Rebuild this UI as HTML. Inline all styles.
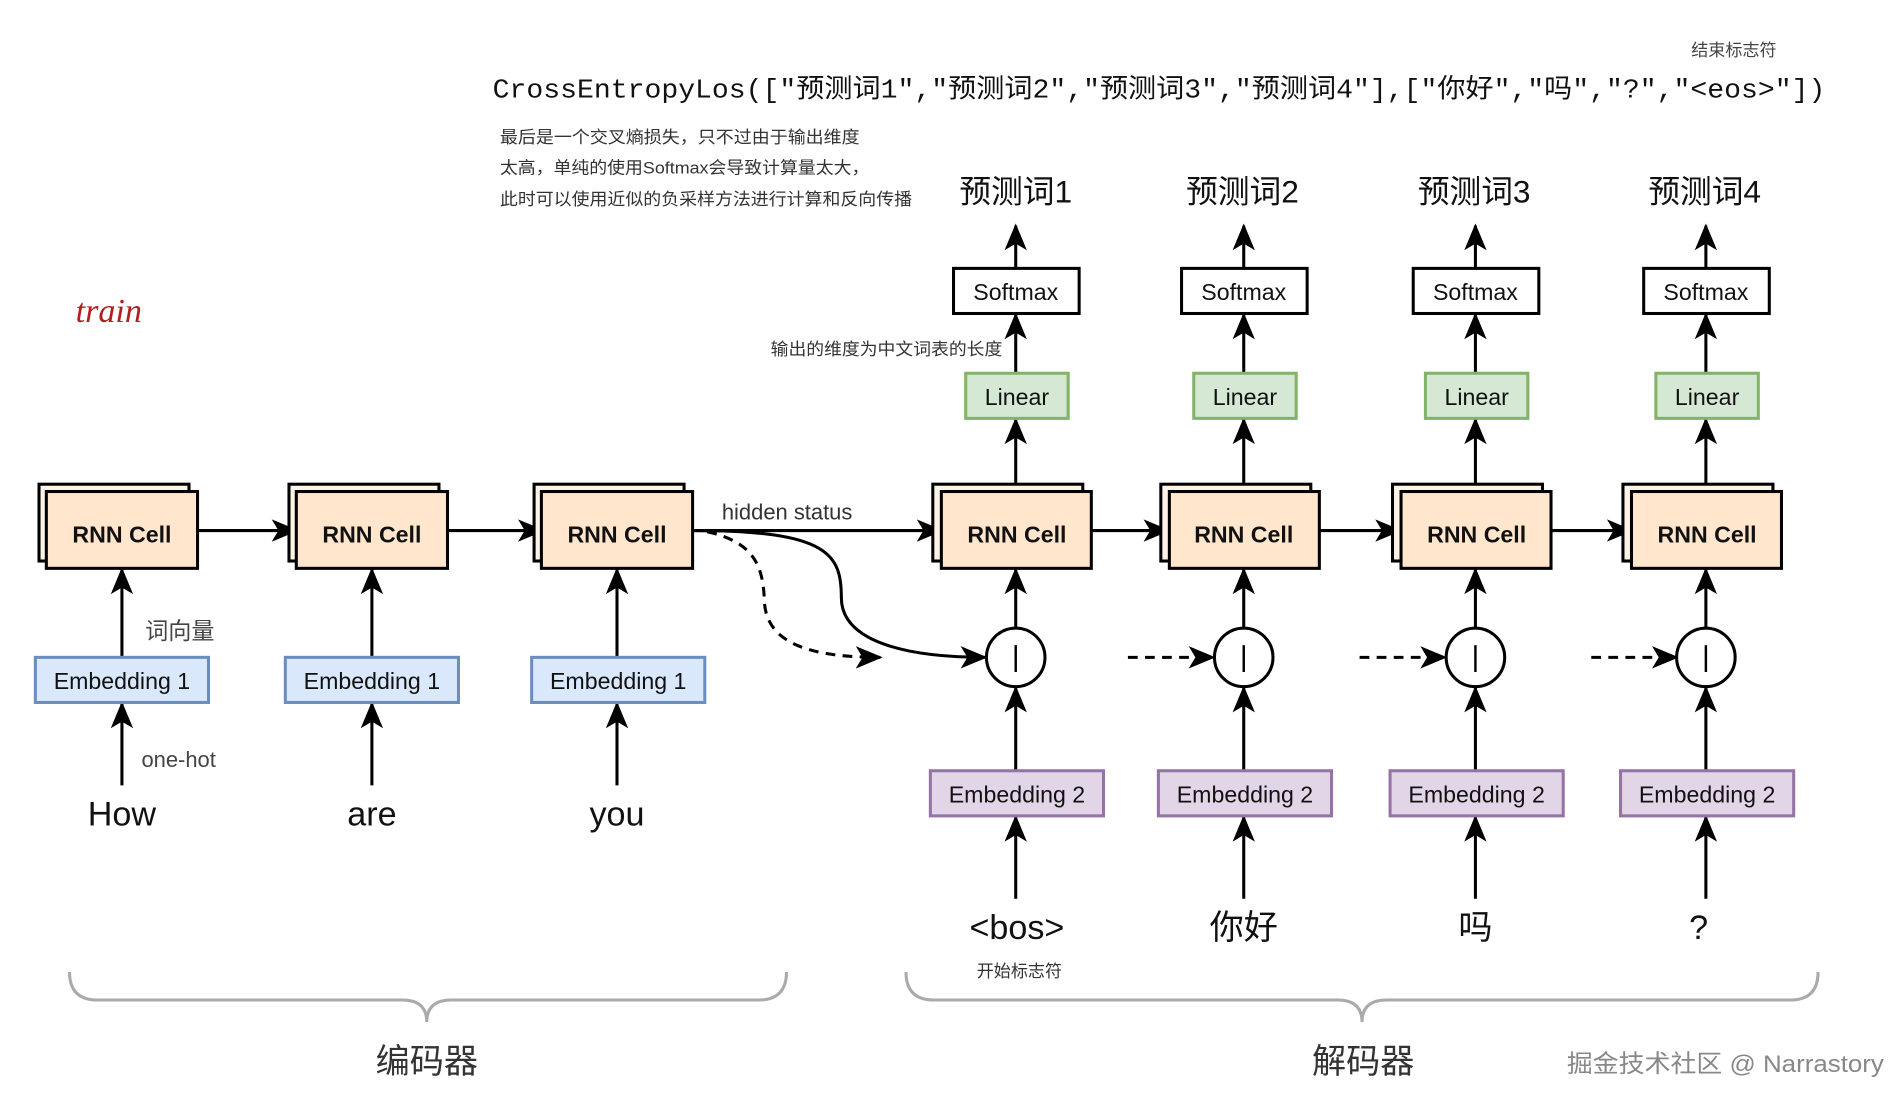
<!DOCTYPE html>
<html><head><meta charset="utf-8"><style>
html,body{margin:0;padding:0;background:#fff;}
svg{display:block;}
text{font-family:"Liberation Sans","Noto Sans CJK SC",sans-serif;}
</style></head><body>
<svg width="1890" height="1094" viewBox="0 0 1550 897" xmlns="http://www.w3.org/2000/svg">
<defs>
<marker id="b" viewBox="0 0 12 12" refX="11" refY="6" markerWidth="22" markerHeight="22" markerUnits="userSpaceOnUse" orient="auto">
<path d="M0,1 L12,6 L0,11 L3,6 Z" fill="#000"/>
</marker>
</defs>
<rect width="1550" height="897" fill="#fff"/>

<text x="1387" y="46" font-size="14" fill="#444">结束标志符</text>
<text x="404" y="80" font-size="22" style="font-family:'Liberation Mono','Noto Sans CJK SC',monospace" textLength="1093" lengthAdjust="spacingAndGlyphs" fill="#111">CrossEntropyLos(["预测词1","预测词2","预测词3","预测词4"],["你好","吗","?","&lt;eos&gt;"])</text>
<g font-size="14" fill="#333">
<text x="410" y="117" textLength="295" lengthAdjust="spacingAndGlyphs">最后是一个交叉熵损失，只不过由于输出维度</text>
<text x="410" y="142" textLength="303" lengthAdjust="spacingAndGlyphs">太高，单纯的使用Softmax会导致计算量太大，</text>
<text x="410" y="168" textLength="338" lengthAdjust="spacingAndGlyphs">此时可以使用近似的负采样方法进行计算和反向传播</text>
</g>
<text x="62" y="264" font-size="28" font-style="italic" style="font-family:'Liberation Serif',serif" fill="#b02020">train</text>
<text x="632" y="291" font-size="14" fill="#333" textLength="190" lengthAdjust="spacingAndGlyphs">输出的维度为中文词表的长度</text>

<g font-size="26" text-anchor="middle" fill="#111">
<text x="833" y="166">预测词1</text><text x="1019" y="166">预测词2</text><text x="1209" y="166">预测词3</text><text x="1398" y="166">预测词4</text>
</g>

<g stroke="#000" stroke-width="2.5" fill="none">
<line x1="833" y1="220" x2="833" y2="185" marker-end="url(#b)"/>
<line x1="1020" y1="220" x2="1020" y2="185" marker-end="url(#b)"/>
<line x1="1210" y1="220" x2="1210" y2="185" marker-end="url(#b)"/>
<line x1="1399" y1="220" x2="1399" y2="185" marker-end="url(#b)"/>
<line x1="833" y1="306" x2="833" y2="258" marker-end="url(#b)"/>
<line x1="1020" y1="306" x2="1020" y2="258" marker-end="url(#b)"/>
<line x1="1210" y1="306" x2="1210" y2="258" marker-end="url(#b)"/>
<line x1="1399" y1="306" x2="1399" y2="258" marker-end="url(#b)"/>
<line x1="833" y1="403" x2="833" y2="344" marker-end="url(#b)"/>
<line x1="1020" y1="403" x2="1020" y2="344" marker-end="url(#b)"/>
<line x1="1210" y1="403" x2="1210" y2="344" marker-end="url(#b)"/>
<line x1="1399" y1="403" x2="1399" y2="344" marker-end="url(#b)"/>
<line x1="833" y1="515" x2="833" y2="467" marker-end="url(#b)"/>
<line x1="1020" y1="515" x2="1020" y2="467" marker-end="url(#b)"/>
<line x1="1210" y1="515" x2="1210" y2="467" marker-end="url(#b)"/>
<line x1="1399" y1="515" x2="1399" y2="467" marker-end="url(#b)"/>
<line x1="833" y1="632" x2="833" y2="564" marker-end="url(#b)"/>
<line x1="1020" y1="632" x2="1020" y2="564" marker-end="url(#b)"/>
<line x1="1210" y1="632" x2="1210" y2="564" marker-end="url(#b)"/>
<line x1="1399" y1="632" x2="1399" y2="564" marker-end="url(#b)"/>
<line x1="833" y1="737" x2="833" y2="670" marker-end="url(#b)"/>
<line x1="1020" y1="737" x2="1020" y2="670" marker-end="url(#b)"/>
<line x1="1210" y1="737" x2="1210" y2="670" marker-end="url(#b)"/>
<line x1="1399" y1="737" x2="1399" y2="670" marker-end="url(#b)"/>
<line x1="100" y1="539" x2="100" y2="467" marker-end="url(#b)"/>
<line x1="305" y1="539" x2="305" y2="467" marker-end="url(#b)"/>
<line x1="506" y1="539" x2="506" y2="467" marker-end="url(#b)"/>
<line x1="100" y1="644" x2="100" y2="577" marker-end="url(#b)"/>
<line x1="305" y1="644" x2="305" y2="577" marker-end="url(#b)"/>
<line x1="506" y1="644" x2="506" y2="577" marker-end="url(#b)"/>
<line x1="162" y1="435" x2="243" y2="435" marker-end="url(#b)"/>
<line x1="367" y1="435" x2="445" y2="435" marker-end="url(#b)"/>
<line x1="568" y1="435" x2="772" y2="435" marker-end="url(#b)"/>
<line x1="895" y1="435" x2="958" y2="435" marker-end="url(#b)"/>
<line x1="1082" y1="435" x2="1148" y2="435" marker-end="url(#b)"/>
<line x1="1272" y1="435" x2="1338" y2="435" marker-end="url(#b)"/>
<path d="M570,435 C680,435 690,455 690,490 C690,525 740,539 808,539" marker-end="url(#b)"/>
<path d="M580,436 C620,445 626,465 627,495 C630,530 670,539 722,539" stroke-dasharray="8,6" marker-end="url(#b)"/>
<line x1="925" y1="539" x2="995" y2="539" stroke-dasharray="8,6" marker-end="url(#b)"/>
<line x1="1115" y1="539" x2="1185" y2="539" stroke-dasharray="8,6" marker-end="url(#b)"/>
<line x1="1305" y1="539" x2="1375" y2="539" stroke-dasharray="8,6" marker-end="url(#b)"/>
</g>

<g fill="#fff" stroke="#000" stroke-width="2.5">
<rect x="782" y="220" width="103" height="37"/><rect x="969" y="220" width="103" height="37"/><rect x="1159" y="220" width="103" height="37"/><rect x="1348" y="220" width="103" height="37"/>
</g>
<g font-size="19" text-anchor="middle" fill="#111">
<text x="833" y="246">Softmax</text><text x="1020" y="246">Softmax</text><text x="1210" y="246">Softmax</text><text x="1399" y="246">Softmax</text>
</g>
<g fill="#d5e8d4" stroke="#82b366" stroke-width="2.5">
<rect x="792" y="306" width="84" height="37"/><rect x="979" y="306" width="84" height="37"/><rect x="1169" y="306" width="84" height="37"/><rect x="1358" y="306" width="84" height="37"/>
</g>
<g font-size="19" text-anchor="middle" fill="#111">
<text x="834" y="332">Linear</text><text x="1021" y="332">Linear</text><text x="1211" y="332">Linear</text><text x="1400" y="332">Linear</text>
</g>

<g stroke="#000" stroke-width="2.5">
<g fill="#fdf3e7"><rect x="32" y="397" width="123" height="63"/><rect x="237" y="397" width="123" height="63"/><rect x="438" y="397" width="123" height="63"/>
<rect x="765" y="397" width="123" height="63"/><rect x="952" y="397" width="123" height="63"/><rect x="1142" y="397" width="123" height="63"/><rect x="1331" y="397" width="123" height="63"/></g>
<g fill="#ffe6cc"><rect x="38" y="403" width="124" height="63"/><rect x="243" y="403" width="124" height="63"/><rect x="444" y="403" width="124" height="63"/>
<rect x="772" y="403" width="123" height="63"/><rect x="959" y="403" width="123" height="63"/><rect x="1149" y="403" width="123" height="63"/><rect x="1338" y="403" width="123" height="63"/></g>
</g>
<g font-size="19" font-weight="bold" text-anchor="middle" fill="#111">
<text x="100" y="445">RNN Cell</text><text x="305" y="445">RNN Cell</text><text x="506" y="445">RNN Cell</text>
<text x="834" y="445">RNN Cell</text><text x="1020" y="445">RNN Cell</text><text x="1211" y="445">RNN Cell</text><text x="1400" y="445">RNN Cell</text>
</g>
<text x="592" y="426" font-size="18" fill="#333">hidden status</text>

<g fill="#dae8fc" stroke="#6c8ebf" stroke-width="2.5">
<rect x="29" y="539" width="142" height="37"/><rect x="234" y="539" width="142" height="37"/><rect x="436" y="539" width="142" height="37"/>
</g>
<g font-size="19" text-anchor="middle" fill="#111">
<text x="100" y="565">Embedding 1</text><text x="305" y="565">Embedding 1</text><text x="507" y="565">Embedding 1</text>
</g>
<text x="119" y="524" font-size="19" fill="#444">词向量</text>
<text x="116" y="629" font-size="18" fill="#444">one-hot</text>
<g font-size="28" text-anchor="middle" fill="#111">
<text x="100" y="677">How</text><text x="305" y="677">are</text><text x="506" y="677">you</text>
</g>

<g fill="#fff" stroke="#000" stroke-width="2.5">
<circle cx="833" cy="539" r="24"/><circle cx="1020" cy="539" r="24"/><circle cx="1210" cy="539" r="24"/><circle cx="1399" cy="539" r="24"/>
</g>
<g stroke="#000" stroke-width="2">
<line x1="833" y1="529" x2="833" y2="551"/><line x1="1020" y1="529" x2="1020" y2="551"/><line x1="1210" y1="529" x2="1210" y2="551"/><line x1="1399" y1="529" x2="1399" y2="551"/>
</g>

<g fill="#e1d5e7" stroke="#9673a6" stroke-width="2.5">
<rect x="763" y="632" width="142" height="37"/><rect x="950" y="632" width="142" height="37"/><rect x="1140" y="632" width="142" height="37"/><rect x="1329" y="632" width="142" height="37"/>
</g>
<g font-size="19" text-anchor="middle" fill="#111">
<text x="834" y="658">Embedding 2</text><text x="1021" y="658">Embedding 2</text><text x="1211" y="658">Embedding 2</text><text x="1400" y="658">Embedding 2</text>
</g>
<g font-size="28" text-anchor="middle" fill="#111">
<text x="834" y="770">&lt;bos&gt;</text><text x="1020" y="770">你好</text><text x="1210" y="770">吗</text><text x="1393" y="770">?</text>
</g>
<text x="836" y="801" font-size="14" text-anchor="middle" fill="#333">开始标志符</text>

<g fill="none" stroke="#aaa" stroke-width="2.5">
<path d="M57,797 Q57,820 80,820 L330,820 Q350,820 350,838 Q350,820 370,820 L622,820 Q645,820 645,797"/>
<path d="M743,797 Q743,820 766,820 L1097,820 Q1117,820 1117,838 Q1117,820 1137,820 L1468,820 Q1491,820 1491,797"/>
</g>
<g font-size="28" text-anchor="middle" fill="#333">
<text x="350" y="880">编码器</text><text x="1118" y="880">解码器</text>
</g>
<text x="1285" y="879" font-size="20" fill="#888" textLength="260" lengthAdjust="spacingAndGlyphs">掘金技术社区 @ Narrastory</text>
</svg>
</body></html>
